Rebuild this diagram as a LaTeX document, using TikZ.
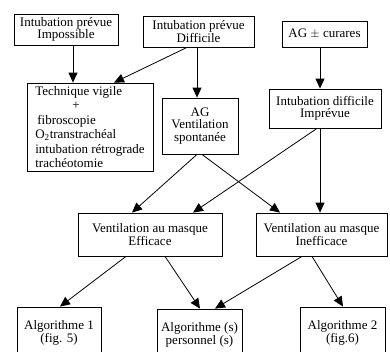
\documentclass[tikz,border=0pt]{standalone}
\usepackage{fontspec}
\setmainfont{Liberation Serif}
\usetikzlibrary{arrows.meta}

\begin{document}
\begin{tikzpicture}[x=1pt,y=1pt]
\tikzstyle{every node}+=[draw=black,line width=0.8pt,align=center,inner sep=2pt,font=\fontsize{13}{12.5}\selectfont]
\tikzstyle{fleche}=[black,line width=0.8pt,-{Triangle[length=10pt,width=9pt]}]
\useasboundingbox (0,0) rectangle (390,-351);
\clip (0,0) rectangle (390,-351);
\node [minimum width=104pt,minimum height=31pt] (previmp) at (66,-29.5) {Intubation prévue\\Impossible};
\node [minimum width=111pt,minimum height=31pt] (prevdif) at (198.5,-31.5) {Intubation prévue\\Difficile};
\node [minimum width=85pt,minimum height=26pt] (agcur) at (324.5,-34) {AG $\pm$ curares};
\node [minimum width=126pt,minimum height=88pt,align=left] (vigile) at (90,-127) {Technique vigile\\[2pt]\hspace*{37pt}+\\[2pt]\hspace*{2pt}fibroscopie\\[2pt]O\textsubscript{2}transtrachéal\\[2pt]intubation rétrograde\\[2pt]trachéotomie};
\node [minimum width=76pt,minimum height=56pt] (agvs) at (200,-126) {AG\\Ventilation\\spontanée};
\node [minimum width=112pt,minimum height=39pt] (imprev) at (325,-108.5) {Intubation difficile\\Imprévue};
\node [minimum width=144pt,minimum height=43pt] (effic) at (150,-234.5) {Ventilation au masque\\Efficace};
\node [minimum width=131pt,minimum height=43pt] (ineff) at (321.5,-234.5) {Ventilation au masque\\Inefficace};
\node [minimum width=84pt,minimum height=52pt] (algoun) at (59,-333) {Algorithme 1\\(fig. 5)};
\node [minimum width=85pt,minimum height=52pt] (algoperso) at (199.5,-335) {Algorithme (s)\\personnel (s)};
\node [minimum width=85pt,minimum height=52pt] (algodeux) at (342.5,-333) {Algorithme 2\\(fig.6)};
\draw [fleche] ([xshift=7pt]previmp.south) -- ([xshift=-17pt]vigile.north);
\draw [fleche] ([xshift=-11.5pt]prevdif.south) -- ([xshift=24pt]vigile.north);
\draw [fleche] ([xshift=-1.5pt]prevdif.south) -- ([xshift=-3pt]agvs.north);
\draw [fleche] ([xshift=-4.5pt]agcur.south) -- ([xshift=-5pt]imprev.north);
\draw [fleche] ([xshift=-3pt]agvs.south) -- ([xshift=-18pt]effic.north);
\draw [fleche] ([xshift=2pt]agvs.south) -- ([xshift=-41.5pt]ineff.north);
\draw [fleche] ([xshift=-8pt]imprev.south) -- ([xshift=43pt]effic.north);
\draw [fleche] ([xshift=-5pt]imprev.south) -- ([xshift=-1.5pt]ineff.north);
\draw [fleche] ([xshift=-24pt]effic.south) -- ([xshift=1pt]algoun.north);
\draw [fleche] ([xshift=15pt]effic.south) -- ([xshift=0.5pt]algoperso.north);
\draw [fleche] ([xshift=-19.5pt]ineff.south) -- ([xshift=15.5pt]algoperso.north);
\draw [fleche] ([xshift=-9.5pt]ineff.south) -- ([xshift=0.5pt]algodeux.north);
\end{tikzpicture}
\end{document}
